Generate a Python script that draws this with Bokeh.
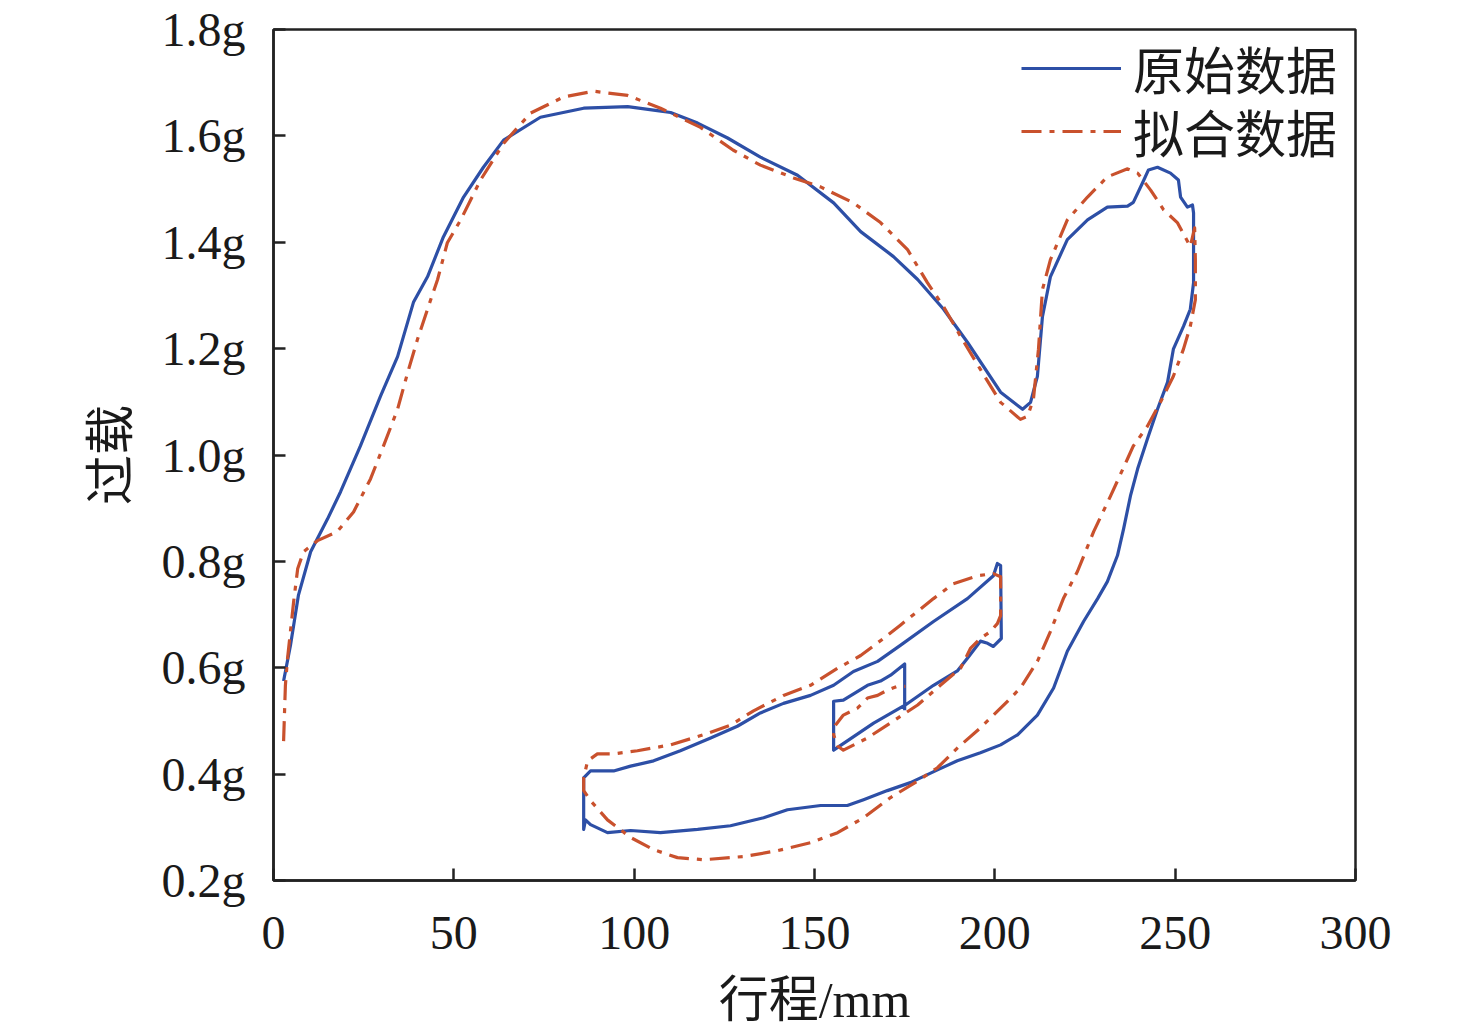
from bokeh.plotting import figure
from bokeh.models import Range1d, FixedTicker, CustomJSTickFormatter, Legend, LegendItem
from bokeh.embed import file_html
from bokeh.resources import INLINE

# 原始数据 (original data): 行程 mm, 过载 g
orig_x = [2.8, 4.7, 6.9, 10.3, 15.0, 18.6, 24.1, 29.7, 34.4, 38.8, 42.7, 47.1, 52.7, 58.2, 63.8,
          74.0, 86.0, 98.2, 105.9, 110.1, 117.6, 125.9, 135.0, 145.3, 155.3, 162.8, 171.9, 178.6,
          185.8, 192.4, 201.6, 207.7, 209.9, 211.8, 213.2, 215.4, 220.1, 225.7, 231.2, 236.8, 238.4,
          240.9, 242.6, 245.1, 248.7, 250.9, 251.5, 253.4, 254.8, 255.1, 255.1, 255.1, 254.2, 252.3,
          249.5, 247.9, 245.1, 242.3, 239.6, 237.6, 235.7, 234.0, 231.2, 228.5, 224.6, 220.1, 216.3,
          211.8, 206.3, 201.6, 196.0, 189.6, 184.1, 176.6, 170.2, 163.6, 159.1, 151.7, 142.5, 135.9,
          126.7, 117.6, 107.3, 99.0, 92.6, 87.9, 86.5, 86.0, 86.0, 87.9, 89.8, 94.3, 99.0, 105.4,
          112.8, 121.2, 128.6, 135.0, 141.4, 148.9, 155.3, 160.8, 167.5, 173.8, 183.0, 192.4, 199.6,
          200.7, 201.6, 201.8, 199.6, 198.0, 196.0, 192.4, 189.6, 183.0, 175.2, 166.4, 155.3, 155.3,
          158.0, 164.7, 168.3, 171.1, 175.0, 175.0]
orig_y = [0.575, 0.642, 0.736, 0.818, 0.880, 0.931, 1.017, 1.111, 1.185, 1.287, 1.335, 1.410, 1.485,
          1.541, 1.592, 1.635, 1.652, 1.655, 1.648, 1.644, 1.624, 1.596, 1.560, 1.526, 1.474, 1.420,
          1.373, 1.330, 1.274, 1.212, 1.118, 1.086, 1.099, 1.148, 1.260, 1.335, 1.405, 1.442, 1.466,
          1.468, 1.475, 1.511, 1.536, 1.541, 1.530, 1.517, 1.485, 1.466, 1.470, 1.455, 1.418, 1.324,
          1.274, 1.242, 1.199, 1.137, 1.086, 1.030, 0.974, 0.923, 0.861, 0.811, 0.762, 0.730, 0.687,
          0.631, 0.562, 0.511, 0.474, 0.455, 0.440, 0.425, 0.408, 0.384, 0.369, 0.352, 0.341, 0.341,
          0.333, 0.318, 0.303, 0.296, 0.290, 0.294, 0.290, 0.305, 0.314, 0.296, 0.393, 0.406, 0.406,
          0.406, 0.415, 0.425, 0.444, 0.468, 0.490, 0.515, 0.533, 0.548, 0.567, 0.593, 0.612, 0.642,
          0.687, 0.730, 0.773, 0.796, 0.792, 0.655, 0.640, 0.646, 0.650, 0.618, 0.594, 0.567, 0.530,
          0.496, 0.445, 0.537, 0.539, 0.567, 0.575, 0.586, 0.607, 0.520]

# 拟合数据 (fitted data)
fit_x = [2.8, 3.3, 3.9, 5.6, 6.7, 8.3, 12.2, 17.7, 22.2, 26.9, 30.5, 34.4, 37.2, 39.9, 42.7, 45.5,
         48.2, 51.9, 57.4, 63.8, 71.3, 80.4, 88.7, 98.2, 107.3, 118.4, 127.5, 135.0, 144.2, 151.7,
         160.8, 168.3, 175.8, 181.3, 185.8, 190.5, 196.0, 201.6, 207.1, 209.1, 210.7, 212.1, 213.2,
         215.4, 220.1, 225.7, 231.2, 236.8, 239.6, 243.2, 246.8, 250.6, 254.2, 255.4, 255.6, 255.6,
         254.2, 252.3, 249.5, 245.9, 242.3, 238.4, 236.8, 232.1, 227.4, 222.9, 219.0, 215.4, 211.8,
         207.1, 203.5, 196.0, 189.6, 184.1, 178.6, 171.1, 163.6, 156.4, 148.9, 139.7, 130.3, 119.2,
         112.0, 105.4, 99.0, 92.6, 87.9, 86.0, 86.0, 87.1, 89.8, 94.3, 100.9, 110.1, 119.2, 126.7,
         133.1, 141.4, 148.9, 156.4, 162.8, 169.1, 173.8, 183.0, 188.5, 195.2, 199.6, 201.6, 201.6,
         200.7, 198.8, 196.0, 193.3, 190.5, 184.9, 178.6, 171.9, 164.7, 158.0, 156.4, 155.3, 155.8,
         158.0, 161.9, 164.7, 167.5, 170.2, 172.9, 175.2]
fit_y = [0.462, 0.567, 0.618, 0.725, 0.786, 0.818, 0.839, 0.856, 0.893, 0.955, 1.017, 1.086, 1.155,
         1.217, 1.274, 1.330, 1.399, 1.442, 1.517, 1.586, 1.643, 1.673, 1.684, 1.676, 1.652, 1.616,
         1.573, 1.545, 1.521, 1.504, 1.474, 1.437, 1.386, 1.324, 1.279, 1.223, 1.161, 1.099, 1.067,
         1.073, 1.105, 1.199, 1.311, 1.367, 1.442, 1.485, 1.523, 1.538, 1.530, 1.498, 1.461, 1.437,
         1.392, 1.427, 1.367, 1.292, 1.242, 1.199, 1.148, 1.099, 1.054, 1.017, 0.993, 0.923, 0.856,
         0.781, 0.730, 0.668, 0.612, 0.562, 0.537, 0.487, 0.449, 0.412, 0.387, 0.356, 0.318, 0.290,
         0.271, 0.256, 0.245, 0.239, 0.243, 0.258, 0.281, 0.314, 0.350, 0.369, 0.393, 0.425, 0.438,
         0.438, 0.444, 0.455, 0.474, 0.492, 0.519, 0.548, 0.567, 0.599, 0.623, 0.655, 0.680, 0.730,
         0.758, 0.773, 0.777, 0.771, 0.698, 0.683, 0.668, 0.655, 0.637, 0.599, 0.567, 0.530, 0.500,
         0.468, 0.445, 0.453, 0.474, 0.492, 0.511, 0.524, 0.543, 0.548, 0.558, 0.565, 0.565]

x_ticks = [0, 50, 100, 150, 200, 250, 300]
y_ticks = [0.2, 0.4, 0.6, 0.8, 1.0, 1.2, 1.4, 1.6, 1.8]
series_labels = ["原始数据", "拟合数据"]

SERIF = "Liberation Serif"
MIXED = "'Liberation Serif', 'Noto Sans CJK SC'"
BLUE = "#2d4fa6"
RED = "#c9512d"

p = figure(width=1460, height=1030, output_backend="svg", toolbar_location=None,
           x_range=Range1d(0, 300), y_range=Range1d(0.2, 1.8),
           min_border_left=273, min_border_right=105, min_border_top=29, min_border_bottom=147)
p.grid.visible = False
p.background_fill_color = "white"
p.border_fill_color = "white"
p.outline_line_color = "#222222"
p.outline_line_width = 2.5

for ax in (p.xaxis[0], p.yaxis[0]):
    ax.axis_line_width = 2.5
    ax.axis_line_color = "#222222"
    ax.major_tick_line_width = 2.5
    ax.major_tick_line_color = "#222222"
    ax.major_tick_in = 12
    ax.major_tick_out = 0
    ax.minor_tick_line_color = None
    ax.major_label_text_font = SERIF
    ax.major_label_text_font_size = "48px"
    ax.major_label_text_color = "#1a1a1a"
    ax.axis_label_text_font = MIXED
    ax.axis_label_text_font_size = "50px"
    ax.axis_label_text_font_style = "normal"
    ax.axis_label_text_color = "#1a1a1a"

p.xaxis.ticker = FixedTicker(ticks=x_ticks)
p.yaxis.ticker = FixedTicker(ticks=y_ticks)
p.yaxis.formatter = CustomJSTickFormatter(code="return tick.toFixed(1) + 'g';")
p.xaxis.major_label_standoff = 36
p.yaxis.major_label_standoff = 28
p.xaxis.axis_label = "行程/mm"
p.yaxis.axis_label = "过载"
p.xaxis.axis_label_standoff = 20
p.yaxis.axis_label_standoff = 20

r_orig = p.line(orig_x, orig_y, line_color=BLUE, line_width=3.2, line_join="round")
r_fit = p.line(fit_x, fit_y, line_color=RED, line_width=3.2, line_dash="20 8 5 8", line_join="round")

legend_style = dict(border_line_color=None, background_fill_alpha=0,
                    label_text_font=MIXED, label_text_font_size="51px", label_text_color="#1a1a1a",
                    glyph_width=100, glyph_height=50, label_standoff=12, padding=6, margin=0)
legend_orig = Legend(items=[LegendItem(label=series_labels[0], renderers=[r_orig])],
                     location=(748, 775), **legend_style)
legend_fit = Legend(items=[LegendItem(label=series_labels[1], renderers=[r_fit])],
                    location=(748, 712), **legend_style)
p.add_layout(legend_orig)
p.add_layout(legend_fit)

open("out.html", "w").write(file_html(p, INLINE))
